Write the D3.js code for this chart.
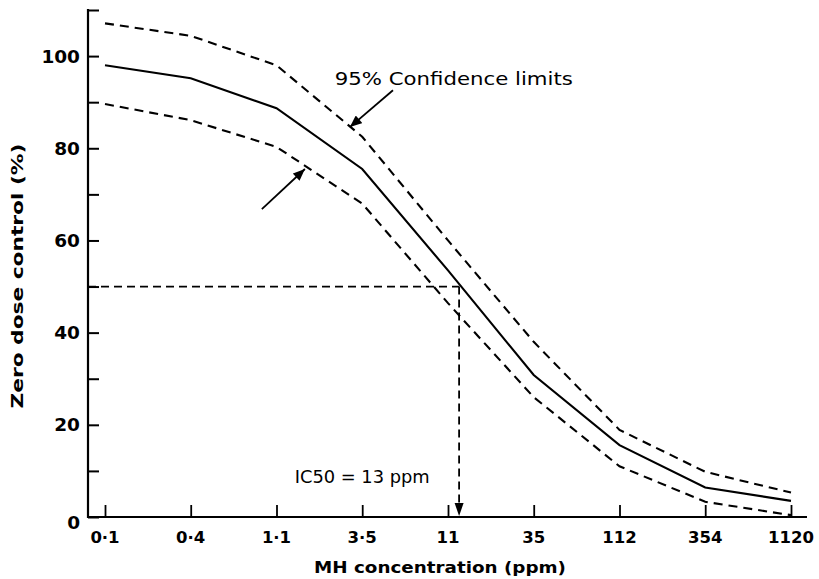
<!DOCTYPE html>
<html>
<head>
<meta charset="utf-8">
<script src="https://cdn.jsdelivr.net/npm/d3@7"></script>
<style>
  html, body { margin: 0; padding: 0; background: #fff; }
  svg { display: block; }
  text { font-family: "DejaVu Sans", sans-serif; fill: #000; }
</style>
</head>
<body>
<svg id="chart" width="819" height="579"></svg>
<script>
// ---- data ----
const concentrations = [0.112, 0.354, 1.12, 3.54, 11.2, 35.4, 112, 354, 1120];
const xTickLabels = ["0·1", "0·4", "1·1", "3·5", "11", "35", "112", "354", "1120"];
const meanResponse = [98, 95.2, 88.7, 75.5, 53.5, 30.8, 15.6, 6.4, 3.5];
const upperLimit = [107.1, 104.4, 98, 82.5, 60, 38, 18.9, 9.8, 5.3];
const lowerLimit = [89.6, 86.1, 80.3, 68, 46.4, 26, 11, 3.3, 0.4];
const yTicks = [0, 10, 20, 30, 40, 50, 60, 70, 80, 90, 100, 110];
const yTickLabels = [0, 20, 40, 60, 80, 100];
const ic50 = 13;
const ic50Level = 50;
// annotation anchors (data units)
const ciLabel = { conc: 2.45, value: 93.7, text: "95% Confidence limits" };
const upperArrow = { fromConc: 5.35, fromValue: 92.6, toConc: 3.0, toValue: 84.6 };
const lowerArrow = { fromConc: 0.92, fromValue: 66.8, toConc: 1.64, toValue: 75.5 };
const ic50Label = { conc: 1.43, value: 7.4, text: "IC50 = 13 ppm" };

// ---- scales ----
const x = d3.scaleLog().domain([0.112, 1120]).range([105, 791]);
const y = d3.scaleLinear().domain([0, 110]).range([517, 10]);
const axisLeft = 88;

const svg = d3.select("#chart");

// arrow markers
const defs = svg.append("defs");
defs.append("marker")
  .attr("id", "head")
  .attr("markerUnits", "userSpaceOnUse")
  .attr("viewBox", "0 0 12 10")
  .attr("refX", 12).attr("refY", 5)
  .attr("markerWidth", 13).attr("markerHeight", 10)
  .attr("orient", "auto")
  .append("path").attr("d", "M0,0 L12,5 L0,10 Z").attr("fill", "#000");

// ---- axes ----
const yAxis = d3.axisRight(y)
  .tickValues(yTicks)
  .tickSize(11)
  .tickFormat("");
svg.append("g")
  .attr("transform", `translate(${axisLeft},0)`)
  .call(yAxis)
  .call(g => g.select(".domain").remove())
  .call(g => g.selectAll(".tick line").attr("stroke", "#000").attr("stroke-width", 2));

svg.append("line")
  .attr("x1", axisLeft).attr("x2", axisLeft)
  .attr("y1", y(110) - 1).attr("y2", y(0) + 1)
  .attr("stroke", "#000").attr("stroke-width", 2.2);

svg.append("g").selectAll("text")
  .data(yTickLabels)
  .join("text")
  .attr("x", 80)
  .attr("y", d => y(d) + (d === 0 ? 5 : 0))
  .attr("dy", "0.36em")
  .attr("text-anchor", "end")
  .attr("font-size", 18.5)
  .attr("font-weight", "bold")
  .text(d => d);

const xAxis = d3.axisTop(x)
  .tickValues(concentrations)
  .tickSize(12)
  .tickFormat("");
svg.append("g")
  .attr("transform", `translate(0,${y(0)})`)
  .call(xAxis)
  .call(g => g.select(".domain").remove())
  .call(g => g.selectAll(".tick line").attr("stroke", "#000").attr("stroke-width", 1.8));

svg.append("line")
  .attr("x1", axisLeft).attr("x2", 807)
  .attr("y1", y(0)).attr("y2", y(0))
  .attr("stroke", "#000").attr("stroke-width", 2.2);

svg.append("g").selectAll("text")
  .data(concentrations)
  .join("text")
  .attr("x", d => x(d))
  .attr("y", 537)
  .attr("dy", "0.36em")
  .attr("text-anchor", "middle")
  .attr("font-size", 16.5)
  .attr("font-weight", "bold")
  .text((d, i) => xTickLabels[i]);

// axis titles
svg.append("text")
  .attr("x", 440).attr("y", 573)
  .attr("text-anchor", "middle")
  .attr("font-size", 16.5)
  .attr("font-weight", "bold")
  .attr("textLength", 252).attr("lengthAdjust", "spacingAndGlyphs")
  .text("MH concentration (ppm)");

svg.append("text")
  .attr("transform", "translate(23,276) rotate(-90)")
  .attr("text-anchor", "middle")
  .attr("font-size", 16.5)
  .attr("font-weight", "bold")
  .attr("textLength", 265).attr("lengthAdjust", "spacingAndGlyphs")
  .text("Zero dose control (%)");

// ---- curves ----
const line = d3.line()
  .x(d => x(d[0]))
  .y(d => y(d[1]));

const series = [
  { values: upperLimit, dash: "9,6" },
  { values: lowerLimit, dash: "9,6" },
  { values: meanResponse, dash: null }
];
svg.append("g").selectAll("path")
  .data(series)
  .join("path")
  .attr("d", s => line(concentrations.map((c, i) => [c, s.values[i]])))
  .attr("fill", "none")
  .attr("stroke", "#000")
  .attr("stroke-width", 2.1)
  .attr("stroke-dasharray", s => s.dash);

// ---- IC50 guides ----
svg.append("line")
  .attr("x1", axisLeft).attr("x2", x(ic50))
  .attr("y1", y(ic50Level)).attr("y2", y(ic50Level))
  .attr("stroke", "#000").attr("stroke-width", 1.8)
  .attr("stroke-dasharray", "8,5");

svg.append("line")
  .attr("x1", x(ic50)).attr("x2", x(ic50))
  .attr("y1", y(ic50Level)).attr("y2", y(0) - 13)
  .attr("stroke", "#000").attr("stroke-width", 1.8)
  .attr("stroke-dasharray", "8,5");

svg.append("path")
  .attr("d", `M${x(ic50) - 4.5},${y(0) - 14} L${x(ic50) + 4.5},${y(0) - 14} L${x(ic50)},${y(0) - 1} Z`)
  .attr("fill", "#000");

svg.append("text")
  .attr("x", x(ic50Label.conc)).attr("y", y(ic50Label.value))
  .attr("font-size", 17)
  .attr("textLength", 135).attr("lengthAdjust", "spacingAndGlyphs")
  .text(ic50Label.text);

// ---- confidence label + arrows ----
svg.append("text")
  .attr("x", x(ciLabel.conc)).attr("y", y(ciLabel.value))
  .attr("font-size", 17.5)
  .attr("textLength", 238).attr("lengthAdjust", "spacingAndGlyphs")
  .text(ciLabel.text);

[upperArrow, lowerArrow].forEach(a => {
  svg.append("line")
    .attr("x1", x(a.fromConc)).attr("y1", y(a.fromValue))
    .attr("x2", x(a.toConc)).attr("y2", y(a.toValue))
    .attr("stroke", "#000").attr("stroke-width", 1.8)
    .attr("marker-end", "url(#head)");
});
</script>
</body>
</html>
